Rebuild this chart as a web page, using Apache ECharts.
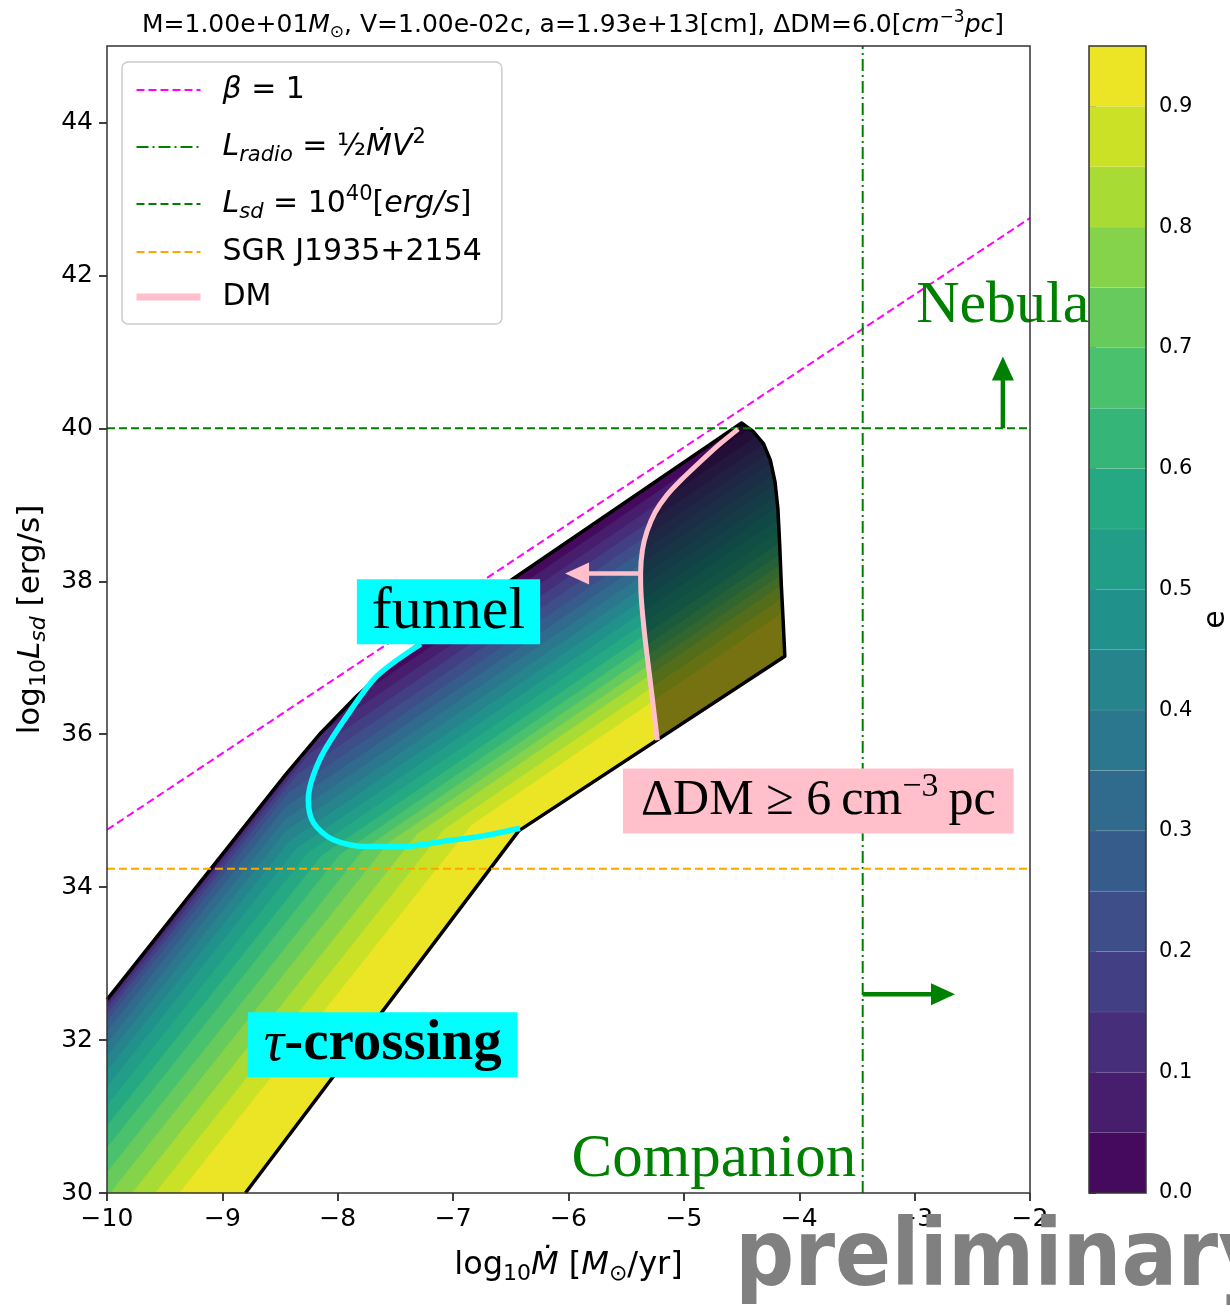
<!DOCTYPE html>
<html><head><meta charset="utf-8">
<script src="https://cdn.jsdelivr.net/npm/echarts@6/dist/echarts.min.js"></script>
<style>html,body{margin:0;padding:0;background:#fff}#c{width:1230px;height:1314px}</style>
</head><body><div id="c"></div>
<script>
// ---------------- data ----------------
const xTicks = [-10, -9, -8, -7, -6, -5, -4, -3, -2];
const yTicks = [30, 32, 34, 36, 38, 40, 42, 44];
const eLevels = [0, 0.05, 0.1, 0.15, 0.2, 0.25, 0.3, 0.35, 0.4, 0.45, 0.5, 0.55, 0.6, 0.65, 0.7, 0.75, 0.8, 0.85, 0.9, 0.95];
const cbTicks = [0, 0.1, 0.2, 0.3, 0.4, 0.5, 0.6, 0.7, 0.8, 0.9];

// boundary of the allowed region
const edgeUpperLeft = [[-10, 32.53], [-8.45, 35.475], [-8.145, 36.02], [-7.835, 36.50], [-7.52, 36.93], [-7.2, 37.29], [-4.50, 40.07]];
const edgeRight = [[-4.50, 40.07], [-4.40, 39.96], [-4.31, 39.80], [-4.25, 39.58], [-4.21, 39.30], [-4.185, 38.95], [-4.17, 38.50], [-4.155, 37.94], [-4.14, 37.50], [-4.125, 37.02]];
const edgeLowerRight = [[-4.125, 37.02], [-6.432, 34.736], [-8.80, 30]];
const regionCorner = [[-10, 30]];

// e-contours: straight branches below / above the kink
const contourLowBase = [-10, 32.53, 1.9];   // point (x,y) and slope of e=0 line below kink
const contourUpBase = [-4.5, 40.07, 1.03];  // point (x,y) and slope of e=0 line above kink
// horizontal shift (lower branch) and vertical drop (upper branch) of contours e=0.05 ... 0.90
const contourLowShift = [0.01, 0.03, 0.06, 0.10, 0.15, 0.22, 0.30, 0.39, 0.49, 0.60, 0.73, 0.87, 1.02, 1.19, 1.36, 1.55, 1.75, 1.96];
const contourUpDrop = [0.15, 0.31, 0.47, 0.63, 0.79, 0.95, 1.11, 1.27, 1.43, 1.59, 1.75, 1.91, 2.06, 2.20, 2.34, 2.48, 2.66, 2.85];

const dmCurve = [[-5.23, 35.92], [-5.26, 36.3], [-5.30, 36.8], [-5.34, 37.3], [-5.37, 37.8], [-5.375, 38.1], [-5.36, 38.4], [-5.32, 38.65], [-5.25, 38.9], [-5.15, 39.12], [-5.02, 39.33], [-4.86, 39.56], [-4.70, 39.78], [-4.53, 39.99]];
const funnelCurve = [[-7.28, 37.18], [-7.66, 36.76], [-7.92, 36.24], [-8.155, 35.67], [-8.255, 35.14], [-8.21, 34.84], [-8.04, 34.62], [-7.75, 34.53], [-7.46, 34.53], [-7.03, 34.61], [-6.74, 34.67], [-6.42, 34.77]];
const betaLine = [[-10, 34.75], [-2, 42.75]];
const lRadioLine = [[-3.45, 30], [-3.45, 45]];
const lSdLine = [[-10, 40], [-2, 40]];
const sgrLine = [[-10, 34.24], [-2, 34.24]];

const arrowSpecs = [[-2.235, 40.0, -2.235, 40.94], [-3.45, 32.60, -2.65, 32.60], [-5.38, 38.10, -6.03, 38.10]];
const notePos = [[-7.04, 37.60], [-7.61, 31.94], [-3.835, 35.125], [-2.236, 41.60], [-4.74, 30.43]];
const noteText = ['funnel', '{t|τ}-crossing', 'ΔDM ≥ 6\u2009cm{s|−3}\u2009pc', 'Nebula', 'Companion'];

// ---------------- styles ----------------
const FONT = 'DejaVu Sans';
const SERIF = '"Liberation Serif"';
const VIR = ['#440154', '#482475', '#414487', '#355f8d', '#2a788e', '#21918c', '#22a884', '#44bf70', '#7ad151', '#bddf26', '#fde725'];
function hex(h) { return [parseInt(h.substr(1, 2), 16), parseInt(h.substr(3, 2), 16), parseInt(h.substr(5, 2), 16)]; }
function viridis(t) {
  t = Math.max(0, Math.min(1, t));
  const p = t * 10, i = Math.min(9, Math.floor(p)), f = p - i;
  const a = hex(VIR[i]), b = hex(VIR[i + 1]);
  return 'rgb(' + a.map((v, j) => Math.round(v + (b[j] - v) * f)).join(',') + ')';
}
const nBands = eLevels.length - 1;
function bandColor(k) { return viridis((k + 0.5) / nBands); }
const arrowColor = ['#008000', '#008000', '#ffc0cb'];
const noteStyle = [
  { font: '60px ' + SERIF, fill: '#000', bg: '#00ffff', pad: [0, 15], lh: 65, rich: {} },
  { font: 'bold 57px ' + SERIF, fill: '#000', bg: '#00ffff', pad: [0, 16], lh: 65, rich: { t: { font: 'italic 57px ' + SERIF, lineHeight: 65 } } },
  { font: '50px ' + SERIF, fill: '#000', bg: '#ffc0cb', pad: [0, 18], lh: 65, rich: { s: { font: '34px ' + SERIF, padding: [0, 0, 28, 0], lineHeight: 20 } } },
  { font: '60px ' + SERIF, fill: '#008000', bg: null, pad: 0, lh: 65, rich: {} },
  { font: '61px ' + SERIF, fill: '#008000', bg: null, pad: 0, lh: 65, rich: {} }
];

function contourPoly(s, v) {
  const [x0L, y0L, mL] = contourLowBase, [x0U, y0U, mU] = contourUpBase;
  const xc = (y0U - mU * x0U - v - y0L + mL * (x0L + s)) / (mL - mU);
  const yc = y0U + mU * (xc - x0U) - v;
  const yB = 20, xB = x0L + s + (yB - y0L) / mL;
  const xR = 5, yR = y0U + mU * (xR - x0U) - v;
  return [[xB, yB], [xc, yc], [xR, yR], [xR, yB]];
}
const outlinePts = edgeUpperLeft.concat(edgeRight.slice(1), edgeLowerRight.slice(1));
const regionPts = outlinePts.concat(regionCorner);
const overlayPts = dmCurve.concat(edgeRight);

function sarea(p) { let s = 0; for (let i = 0; i < p.length; i++) { const a = p[i], b = p[(i + 1) % p.length]; s += a[0] * b[1] - b[0] * a[1]; } return s; }
function toPath(p) { return 'M' + p.map(q => q[0].toFixed(2) + ' ' + q[1].toFixed(2)).join(' L') + ' Z '; }

const minus = v => (v < 0 ? '\u2212' + Math.abs(v) : String(v));

const rs = (o) => Object.assign({ fontFamily: FONT, color: '#000' }, o);
const legendRich = {
  mi: rs({ fontSize: 30, fontStyle: 'italic' }),
  n: rs({ fontSize: 30 }),
  sub: rs({ fontSize: 21, fontStyle: 'italic', padding: [17, 0, 0, 0], lineHeight: 20 }),
  sup: rs({ fontSize: 21, padding: [0, 0, 19, 0], lineHeight: 20 })
};
const legendLabel = {
  beta: '{mi|β}{n| = 1}',
  lradio: '{mi|L}{sub|radio}{n| = ½}{mi|M\u0307V}{sup|2}',
  lsd: '{mi|L}{sub|sd}{n| = 10}{sup|40}{n|[}{mi|erg/s}{n|]}',
  sgr: '{n|SGR J1935+2154}',
  dm: '{n|DM}'
};

const chart = echarts.init(document.getElementById('c'), null, { renderer: 'canvas', width: 1230, height: 1314 });

const lineSeries = (name, data, color, width, type, z) => ({
  name, type: 'line', data, symbol: 'none', silent: true, z, clip: true,
  lineStyle: { color, width, type }, itemStyle: { color }, xAxisIndex: 0, yAxisIndex: 0
});

const option = {
  animation: false,
  backgroundColor: '#fff',
  title: {
    text: 'M=1.00e+01{mi|M}{sub|⊙}, V=1.00e-02c, a=1.93e+13[cm], ΔDM=6.0[{mi|cm}{sup|−3}{mi|pc}]',
    left: 568, top: 8, textAlign: 'center',
    textStyle: {
      fontFamily: FONT, fontSize: 25, fontWeight: 'normal', color: '#000',
      rich: {
        mi: rs({ fontSize: 25, fontStyle: 'italic' }),
        sub: rs({ fontSize: 17, padding: [14, 0, 0, 0], lineHeight: 18 }),
        sup: rs({ fontSize: 17, fontStyle: 'normal', padding: [0, 0, 15, 0], lineHeight: 18 })
      }
    }
  },
  legend: {
    orient: 'vertical', left: 122, top: 62,
    data: [
      { name: 'beta', textStyle: { lineHeight: 46 } },
      { name: 'lradio', textStyle: { lineHeight: 68 } },
      { name: 'lsd', textStyle: { lineHeight: 46 } },
      { name: 'sgr', textStyle: { lineHeight: 50 } },
      { name: 'dm', textStyle: { lineHeight: 40 }, lineStyle: { width: 7 } }
    ],
    itemWidth: 64, itemHeight: 14, itemGap: 0,
    padding: [5, 20, 7, 11],
    backgroundColor: 'rgba(255,255,255,0.8)', borderColor: '#cccccc', borderWidth: 1.5, borderRadius: 6,
    itemStyle: { opacity: 0 },
    lineStyle: { width: 'inherit' },
    formatter: n => legendLabel[n],
    textStyle: { fontFamily: FONT, fontSize: 30, color: '#000', padding: [0, 0, 0, 17], rich: legendRich },
    selectedMode: false
  },
  grid: [
    { left: 107, top: 46, width: 923, height: 1147, show: true, borderColor: '#333', borderWidth: 1.5, z: 10, outerBoundsMode: 'none' },
    { left: 1089, top: 46, width: 57, height: 1147, show: true, borderColor: '#333', borderWidth: 1.5, z: 10, outerBoundsMode: 'none' }
  ],
  xAxis: [
    {
      gridIndex: 0, type: 'value', min: -10, max: -2, interval: 1,
      axisLine: { show: false }, splitLine: { show: false },
      axisTick: { show: true, length: 8, lineStyle: { color: '#000', width: 1.5 }, customValues: xTicks },
      axisLabel: { fontFamily: FONT, fontSize: 25, color: '#000', margin: 14, formatter: minus, customValues: xTicks },
      name: 'log{sub|10}{mi|M\u0307} [{mi|M}{sub|⊙}/yr]', nameLocation: 'middle', nameGap: 57,
      nameTextStyle: {
        fontFamily: FONT, fontSize: 32, color: '#000',
        rich: {
          mi: rs({ fontSize: 32, fontStyle: 'italic' }),
          sub: rs({ fontSize: 22, padding: [17, 0, 0, 0], lineHeight: 20 })
        }
      }
    },
    { gridIndex: 1, type: 'value', min: 0, max: 1, show: false }
  ],
  yAxis: [
    {
      gridIndex: 0, type: 'value', min: 30, max: 45, interval: 1,
      axisLine: { show: false }, splitLine: { show: false },
      axisTick: { show: true, length: 8, lineStyle: { color: '#000', width: 1.5 }, customValues: yTicks },
      axisLabel: { fontFamily: FONT, fontSize: 25, color: '#000', margin: 14, customValues: yTicks },
      name: 'log{sub|10}{mi|L}{subi|sd} [erg/s]', nameLocation: 'middle', nameGap: 55,
      nameTextStyle: {
        fontFamily: FONT, fontSize: 31, color: '#000',
        rich: {
          mi: rs({ fontSize: 31, fontStyle: 'italic' }),
          sub: rs({ fontSize: 22, padding: [17, 0, 0, 0], lineHeight: 20 }),
          subi: rs({ fontSize: 22, fontStyle: 'italic', padding: [17, 0, 0, 0], lineHeight: 20 })
        }
      }
    },
    {
      gridIndex: 1, type: 'value', min: 0, max: 0.95, interval: 0.1, position: 'right',
      axisLine: { show: false }, splitLine: { show: false },
      axisTick: { show: true, length: 7, lineStyle: { color: '#000', width: 1.5 }, customValues: cbTicks },
      axisLabel: { fontFamily: FONT, fontSize: 21, color: '#000', margin: 13, formatter: v => v.toFixed(1), customValues: cbTicks },
      name: 'e', nameLocation: 'middle', nameGap: 55,
      nameTextStyle: { fontFamily: FONT, fontSize: 30, color: '#000' }
    }
  ],
  graphic: [
    { type: 'text', left: 735, top: 1215, z: 100, silent: true,
      style: { text: 'preliminary', font: 'bold 92px "DejaVu Sans Condensed", "DejaVu Sans"', fill: '#808080' } }
  ],
  series: [
    { // contour bands
      type: 'custom', name: 'bands', z: 1, clip: true, silent: true,
      data: eLevels.slice(0, nBands).map((lv, k) => [k, lv]),
      renderItem(params, api) {
        const k = params.dataIndex;
        let pts;
        if (k === 0) pts = [[-11, 20], [-11, 50], [5, 50], [5, 20]];
        else pts = contourPoly(contourLowShift[k - 1], contourUpDrop[k - 1]);
        return { type: 'polygon', z2: k, shape: { points: pts.map(p => api.coord(p)) }, style: { fill: bandColor(k), stroke: bandColor(k), lineWidth: 0.5 } };
      }
    },
    { // white outside the allowed region
      type: 'custom', name: 'mask', z: 2, clip: true, silent: true, data: [[0]],
      renderItem(params, api) {
        const cs = params.coordSys;
        const r = [[cs.x, cs.y], [cs.x + cs.width, cs.y], [cs.x + cs.width, cs.y + cs.height], [cs.x, cs.y + cs.height]];
        let reg = regionPts.map(p => api.coord(p));
        if (sarea(r) * sarea(reg) > 0) reg = reg.slice().reverse();
        return { type: 'path', shape: { pathData: toPath(r) + toPath(reg) }, style: { fill: '#fff' } };
      }
    },
    { // darkened DM region
      type: 'custom', name: 'dmshade', z: 3, clip: true, silent: true, data: [[0]],
      renderItem(params, api) {
        return { type: 'polygon', shape: { points: overlayPts.map(p => api.coord(p)) }, style: { fill: 'rgba(0,0,0,0.5)' } };
      }
    },
    Object.assign(lineSeries('outline', outlinePts, '#000', 3.5, 'solid', 4), { lineStyle: { color: '#000', width: 3.5, join: 'round' } }),
    lineSeries('beta', betaLine, '#ff00ff', 2, [8, 4], 5),
    lineSeries('lradio', lRadioLine, '#008000', 2, [12, 4, 2, 4], 5),
    lineSeries('lsd', lSdLine, '#008000', 2, [8, 4], 5),
    lineSeries('sgr', sgrLine, '#ffa500', 2, [8, 4], 5),
    Object.assign(lineSeries('dm', dmCurve, '#ffc0cb', 5, 'solid', 6), { smooth: 0.3 }),
    Object.assign(lineSeries('funnelLine', funnelCurve, '#00ffff', 5.5, 'solid', 6), { smooth: 0.3 }),
    { // arrows
      type: 'custom', name: 'arrows', z: 7, clip: false, silent: true,
      data: arrowSpecs.map((a, i) => [i]),
      renderItem(params, api) {
        const a = arrowSpecs[params.dataIndex], c = arrowColor[params.dataIndex];
        const p0 = api.coord([a[0], a[1]]), p1 = api.coord([a[2], a[3]]);
        const dx = p1[0] - p0[0], dy = p1[1] - p0[1], L = Math.hypot(dx, dy);
        const ux = dx / L, uy = dy / L, nx = -uy, ny = ux, hl = 24, hw = 11;
        const bx = p1[0] - ux * hl, by = p1[1] - uy * hl;
        return { type: 'group', children: [
          { type: 'line', shape: { x1: p0[0], y1: p0[1], x2: bx + ux * 2, y2: by + uy * 2 }, style: { stroke: c, lineWidth: 4.5 } },
          { type: 'polygon', shape: { points: [[p1[0], p1[1]], [bx + nx * hw, by + ny * hw], [bx - nx * hw, by - ny * hw]] }, style: { fill: c } }
        ] };
      }
    },
    { // text annotations
      type: 'custom', name: 'notes', z: 8, clip: false, silent: true,
      data: notePos.map((p, i) => [i]),
      renderItem(params, api) {
        const i = params.dataIndex, st = noteStyle[i], p = api.coord(notePos[i]);
        const style = { text: noteText[i], font: st.font, fill: st.fill, align: 'center', verticalAlign: 'middle', lineHeight: st.lh, rich: st.rich };
        if (st.bg) { style.backgroundColor = st.bg; style.padding = st.pad; }
        return { type: 'text', x: p[0], y: p[1], style };
      }
    },
    { // colorbar
      type: 'custom', name: 'colorbar', xAxisIndex: 1, yAxisIndex: 1, z: 1, clip: false, silent: true,
      data: eLevels.slice(0, nBands).map((lv, k) => [k, lv, eLevels[k + 1]]),
      renderItem(params, api) {
        const k = params.dataIndex;
        const a = api.coord([0, api.value(2)]), b = api.coord([1, api.value(1)]);
        return { type: 'rect', shape: { x: a[0], y: a[1], width: b[0] - a[0], height: b[1] - a[1] }, style: { fill: bandColor(k), stroke: 'rgba(255,255,255,0.15)', lineWidth: 0.6 } };
      }
    }
  ]
};
chart.setOption(option);
</script>
</body></html>
